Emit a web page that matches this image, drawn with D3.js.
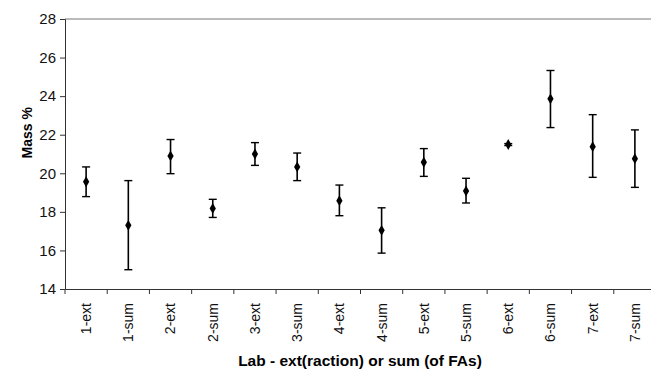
<!DOCTYPE html>
<html>
<head>
<meta charset="utf-8">
<script src="https://cdn.jsdelivr.net/npm/d3@7"></script>
<style>
  body { margin: 0; background: #fff; }
  svg { font-family: Arial, "Liberation Sans", sans-serif; }
</style>
</head>
<body>
<div id="chart"></div>
<script>
// data
var labs = ['1-ext','1-sum','2-ext','2-sum','3-ext','3-sum','4-ext',
            '4-sum','5-ext','5-sum','6-ext','6-sum','7-ext','7-sum'];
var means = [19.56, 17.30, 20.90, 18.18, 21.00, 20.33, 18.58,
             17.04, 20.57, 19.08, 21.49, 23.86, 21.38, 20.76];
var highs = [20.33, 19.62, 21.75, 18.65, 21.59, 21.05, 19.39,
             18.21, 21.28, 19.74, 21.54, 25.33, 23.04, 22.25];
var lows  = [18.79, 15.00, 19.98, 17.71, 20.41, 19.62, 17.80,
             15.86, 19.84, 18.46, 21.44, 22.37, 19.79, 19.27];
var yTicks = [14, 16, 18, 20, 22, 24, 26, 28];

var svgWidth = 651,
    svgHeight = 371;

var margin = {top: 19, right: -5, bottom: 82, left: 65};
var width = svgWidth - margin.left - margin.right,
    height = svgHeight - margin.top - margin.bottom;

var svg = d3.select('#chart').append('svg')
    .attr('width', svgWidth)
    .attr('height', svgHeight);

var chartGroup = svg.append('g')
    .attr('transform', `translate(${margin.left},${margin.top})`);

var data = labs.map((l, i) => ({lab: l, m: means[i], hi: highs[i], lo: lows[i]}));

var xScale = d3.scaleBand().domain(labs).range([0, width]);
var yScale = d3.scaleLinear().domain([14, 28]).range([height, 0]);

// top frame line
chartGroup.append('line')
    .attr('x1', 0).attr('x2', width)
    .attr('y1', 0).attr('y2', 0)
    .attr('stroke', '#777').attr('stroke-width', 1);

// y axis
var yAxis = chartGroup.append('g')
    .call(d3.axisLeft(yScale).tickValues(yTicks).tickSize(5).tickPadding(4));
yAxis.select('.domain').attr('stroke', '#333');
yAxis.selectAll('.tick line').attr('stroke', '#333');
yAxis.selectAll('text').attr('font-size', 15).attr('fill', '#111');

// x axis, ticks on band edges
var xAxis = chartGroup.append('g')
    .attr('transform', `translate(0,${height})`)
    .call(d3.axisBottom(xScale).tickSize(0).tickPadding(10));
xAxis.select('.domain').attr('stroke', '#333');
xAxis.selectAll('text')
    .attr('font-size', 14).attr('fill', '#111')
    .attr('transform', 'rotate(-90)')
    .attr('text-anchor', 'end')
    .attr('x', -14).attr('y', 0).attr('dy', '0.35em');

chartGroup.append('g').selectAll('line')
    .data(labs.concat(['end']))
    .enter().append('line')
    .attr('x1', (d, i) => i * xScale.bandwidth())
    .attr('x2', (d, i) => i * xScale.bandwidth())
    .attr('y1', height).attr('y2', height + 5)
    .attr('stroke', '#333');

// error bars
var bars = chartGroup.append('g').selectAll('g')
    .data(data)
    .enter().append('g')
    .attr('transform', d => `translate(${xScale(d.lab) + xScale.bandwidth() / 2},0)`);

bars.append('line')
    .attr('y1', d => yScale(d.hi)).attr('y2', d => yScale(d.lo))
    .attr('stroke', '#000').attr('stroke-width', 1.6);
bars.append('line')
    .attr('x1', -4).attr('x2', 4)
    .attr('y1', d => yScale(d.hi)).attr('y2', d => yScale(d.hi))
    .attr('stroke', '#000').attr('stroke-width', 1.4);
bars.append('line')
    .attr('x1', -4).attr('x2', 4)
    .attr('y1', d => yScale(d.lo)).attr('y2', d => yScale(d.lo))
    .attr('stroke', '#000').attr('stroke-width', 1.4);

bars.append('path')
    .attr('d', d3.symbol().type(d3.symbolDiamond).size(34))
    .attr('transform', d => `translate(0,${yScale(d.m)})`)
    .attr('fill', '#000');

// axis titles
svg.append('text')
    .attr('transform', `translate(32,${margin.top + yScale(22.1)})rotate(-90)`)
    .attr('text-anchor', 'middle')
    .attr('font-size', 14).attr('font-weight', 'bold')
    .text('Mass %');

svg.append('text')
    .attr('x', 360).attr('y', 366)
    .attr('text-anchor', 'middle')
    .attr('font-size', 15.5).attr('font-weight', 'bold')
    .text('Lab - ext(raction) or sum (of FAs)');
</script>
</body>
</html>
